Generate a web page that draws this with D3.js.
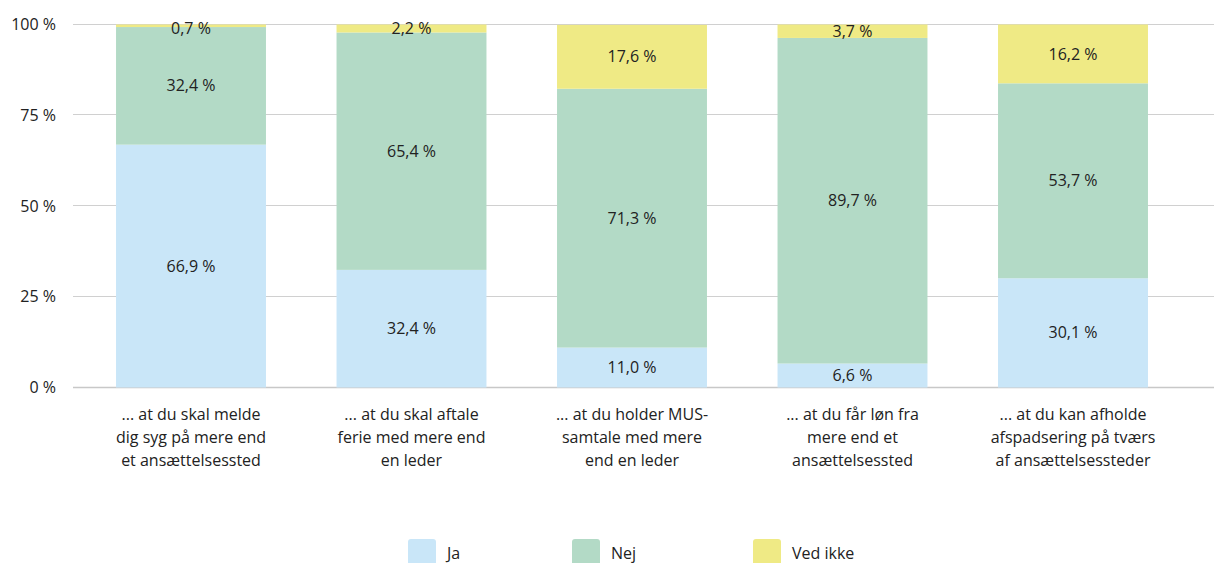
<!DOCTYPE html>
<html>
<head>
<meta charset="utf-8">
<script src="https://cdn.jsdelivr.net/npm/d3@7"></script>
<style>
  body { margin: 0; background: #fff; }
  text { font-family: "Open Sans", "Noto Sans", sans-serif; fill: #222; }
</style>
</head>
<body>
<script>
// chart values
var categories = [
  ["... at du skal melde", "dig syg på mere end", "et ansættelsessted"],
  ["... at du skal aftale", "ferie med mere end", "en leder"],
  ["... at du holder MUS-", "samtale med mere", "end en leder"],
  ["... at du får løn fra", "mere end et", "ansættelsessted"],
  ["... at du kan afholde", "afspadsering på tværs", "af ansættelsessteder"]
];
var seriesNames = ["Ja", "Nej", "Ved ikke"];
var ja = [66.9, 32.4, 11.0, 6.6, 30.1];
var nej = [32.4, 65.4, 71.3, 89.7, 53.7];
var vedIkke = [0.7, 2.2, 17.6, 3.7, 16.2];
var yTicks = [0, 25, 50, 75, 100];
var colors = ["#c9e6f8", "#b3dac6", "#efea85"];

var width = 1214, height = 563;
var fontSize = "16px";

var svg = d3.select("body").append("svg")
    .attr("width", width)
    .attr("height", height);

var x = d3.scaleBand()
    .domain(d3.range(categories.length))
    .range([80.75, 1183.25])
    .paddingInner(0.32)
    .paddingOuter(0.16);

var y = d3.scaleLinear()
    .domain([0, 100])
    .range([387.5, 24.5]);

//gridlines
svg.append("g").selectAll("line")
    .data(yTicks)
    .enter().append("line")
    .attr("x1", 73).attr("x2", width)
    .attr("y1", function(d) { return Math.round(y(d)) - 0.5; })
    .attr("y2", function(d) { return Math.round(y(d)) - 0.5; })
    .attr("stroke", function(d) { return d === 0 ? "#c8c8c8" : "#d0d0d0"; })
    .attr("stroke-width", function(d) { return d === 0 ? 1.5 : 1; });

//y tick labels
svg.append("g").selectAll("text")
    .data(yTicks)
    .enter().append("text")
    .attr("x", 56)
    .attr("y", function(d) { return y(d); })
    .attr("dy", "0.35em")
    .attr("text-anchor", "end")
    .style("font-size", fontSize)
    .text(function(d) { return d + " %"; });

//stack data
var rows = categories.map(function(c, i) {
  return { i: i, "Ja": ja[i], "Nej": nej[i], "Ved ikke": vedIkke[i] };
});
var stacked = d3.stack().keys(seriesNames)(rows);

var layers = svg.append("g").selectAll("g")
    .data(stacked)
    .enter().append("g")
    .attr("fill", function(d, k) { return colors[k]; });

layers.selectAll("rect")
    .data(function(d) { return d; })
    .enter().append("rect")
    .attr("x", function(d) { return x(d.data.i); })
    .attr("width", x.bandwidth())
    .attr("y", function(d) { return y(d[1]); })
    .attr("height", function(d) { return y(d[0]) - y(d[1]); });

layers.selectAll("text")
    .data(function(d) { return d.map(function(p) { return { p: p, key: d.key }; }); })
    .enter().append("text")
    .attr("x", function(d) { return x(d.p.data.i) + x.bandwidth() / 2; })
    .attr("y", function(d) { return Math.max(y((d.p[0] + d.p[1]) / 2), 28); })
    .attr("dy", "0.35em")
    .attr("text-anchor", "middle")
    .style("font-size", fontSize)
    .style("fill", "#222")
    .text(function(d) { return d.p.data[d.key].toFixed(1).replace(".", ",") + " %"; });

//category labels
var cat = svg.append("g").selectAll("text")
    .data(categories)
    .enter().append("text")
    .attr("x", function(d, i) { return x(i) + x.bandwidth() / 2; })
    .attr("y", 414)
    .attr("text-anchor", "middle")
    .style("font-size", fontSize);

cat.selectAll("tspan")
    .data(function(d) { return d; })
    .enter().append("tspan")
    .attr("x", function() { return d3.select(this.parentNode).attr("x"); })
    .attr("dy", function(d, j) { return j === 0 ? "0.35em" : "23px"; })
    .text(function(d) { return d; });

//legend
var legendX = [408, 572, 753];
var legend = svg.append("g").selectAll("g")
    .data(seriesNames)
    .enter().append("g")
    .attr("transform", function(d, k) { return "translate(" + legendX[k] + ",539)"; });

legend.append("rect")
    .attr("width", 28).attr("height", 28)
    .attr("rx", 3)
    .attr("fill", function(d, k) { return colors[k]; });

legend.append("text")
    .attr("x", 39)
    .attr("y", 14)
    .attr("dy", "0.35em")
    .style("font-size", fontSize)
    .text(function(d) { return d; });
</script>
</body>
</html>
